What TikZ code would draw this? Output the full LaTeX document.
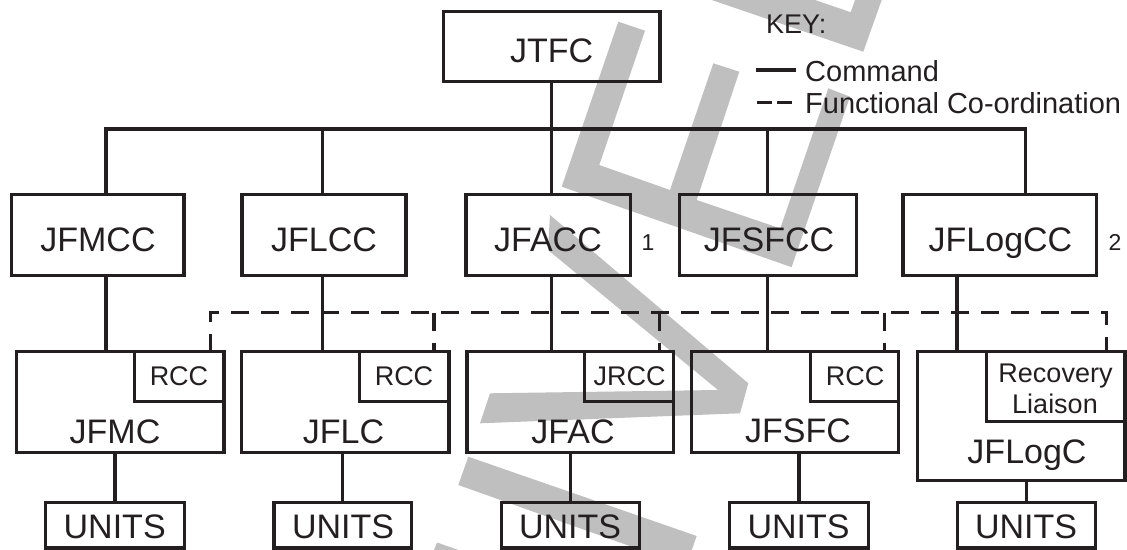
\documentclass[tikz,border=0pt]{standalone}
\usepackage{fontspec}
\setmainfont{Liberation Sans}
\definecolor{ink}{RGB}{35,31,32}
\definecolor{wm}{RGB}{191,191,191}
\begin{document}
\begin{tikzpicture}[x=1pt,y=-1pt,
  box/.style={draw=ink, line width=3.2pt, inner sep=0pt, outer sep=0pt, rectangle},
  ibox/.style={draw=ink, line width=2.8pt, inner sep=0pt, outer sep=0pt, rectangle},
  cmd/.style={draw=ink, line width=3.2pt},
  coord/.style={draw=ink, line width=3.2pt, dash pattern=on 18pt off 12pt},
  txt/.style={text=ink, inner sep=0pt, anchor=base},
  big/.style={txt, font=\fontsize{34}{40}\selectfont},
  mid/.style={txt, font=\fontsize{27}{31}\selectfont},
  keytxt/.style={txt, anchor=base west, font=\fontsize{29}{34}\selectfont},
  note/.style={txt, font=\fontsize{23}{27}\selectfont}
]
\useasboundingbox (0,0) rectangle (1127,549);

% watermark
\begin{scope}
\clip (0,0) rectangle (1127,549);
\fill[wm] (618.3,21.7) -- (645,30.7) -- (599.3,165) -- (670,190) -- (713.3,63.3) -- (739.3,71.7) -- (696.7,200) -- (780.3,228.4) -- (828.3,88.3) -- (850,96.7) -- (791.6,267.2) -- (561.7,186.7) -- cycle;
\fill[wm] (705.8,-2) -- (863.3,51.7) -- (882.4,-2) -- (855.7,-2) -- (850.7,12.2) -- (809,-2) -- cycle;
\fill[wm] (550,215) -- (748.3,383.3) -- (740,413.3) -- (480,423.3) -- (490,393.3) -- (718,390) -- (548,250) -- cycle;
\fill[wm] (468.3,456.7) -- (696.7,536) -- (686,566) -- (458.3,485) -- cycle;
\fill[wm] (437,542.5) -- (470,554) -- (430,560) -- cycle;
\end{scope}

% top box
\node[box, minimum width=216.7pt, minimum height=70pt] (jtfc) at (551.7,46.7) {};
\node[big] (tjtfc) at (551.7,62.7) {JTFC};

% component commands
\node[box, minimum width=172.2pt, minimum height=81.3pt] (jfmcc) at (97.9,235) {};
\node[box, minimum width=164pt, minimum height=81.3pt] (jflcc) at (324,235) {};
\node[box, minimum width=164.3pt, minimum height=81.3pt] (jfacc) at (548.2,235) {};
\node[box, minimum width=177.4pt, minimum height=81.3pt] (jfsfcc) at (768,235) {};
\node[box, minimum width=193.5pt, minimum height=81.3pt] (jflogcc) at (999.8,235) {};
\node[big] (tjfmcc) at (98,251.7) {JFMCC};
\node[big] (tjflcc) at (324,251.7) {JFLCC};
\node[big] (tjfacc) at (548,251.7) {JFACC};
\node[big] (tjfsfcc) at (769,251.7) {JFSFCC};
\node[big] (tjflogcc) at (1000.5,251.7) {JFLogCC};
\node[note] (n1) at (648,250) {1};
\node[note] (n2) at (1115,250) {2};

% component HQs
\node[box, minimum width=207.6pt, minimum height=100.5pt] (jfmc) at (120.2,402) {};
\node[box, minimum width=207.2pt, minimum height=100.5pt] (jflc) at (345.4,402) {};
\node[box, minimum width=206.7pt, minimum height=100.5pt] (jfac) at (570.3,402) {};
\node[box, minimum width=207.5pt, minimum height=100.5pt] (jfsfc) at (795,402) {};
\node[box, minimum width=207.4pt, minimum height=129pt] (jflogc) at (1021.3,416.2) {};
\node[ibox, minimum width=89.4pt, minimum height=49.6pt] (rcc1) at (179.3,376.5) {};
\node[ibox, minimum width=89.4pt, minimum height=49.6pt] (rcc2) at (404.3,376.5) {};
\node[ibox, minimum width=89.2pt, minimum height=49.6pt] (jrcc) at (629.1,376.5) {};
\node[ibox, minimum width=88.6pt, minimum height=49.6pt] (rcc4) at (854.5,376.5) {};
\node[ibox, minimum width=138.6pt, minimum height=69.6pt] (recl) at (1055.7,386.5) {};
\node[big] (tjfmc) at (115,443) {JFMC};
\node[big] (tjflc) at (343.5,443) {JFLC};
\node[big] (tjfac) at (573,443) {JFAC};
\node[big] (tjfsfc) at (798,442.5) {JFSFC};
\node[big] (tjflogc) at (1027,463) {JFLogC};
\node[mid] (trcc1) at (179,385) {RCC};
\node[mid] (trcc2) at (404,385) {RCC};
\node[mid] (tjrcc) at (629.7,385) {JRCC};
\node[mid] (trcc4) at (855,385) {RCC};
\node[mid] (trec1) at (1055.5,382) {Recovery};
\node[mid] (trec2) at (1055,413) {Liaison};

% units
\node[box, minimum width=139.2pt, minimum height=45.7pt] (u1) at (115,525.2) {};
\node[box, minimum width=137.4pt, minimum height=45.7pt] (u2) at (342.7,525.2) {};
\node[box, minimum width=138.4pt, minimum height=45.7pt] (u3) at (570.5,525.2) {};
\node[box, minimum width=138.5pt, minimum height=45.7pt] (u4) at (799,525.2) {};
\node[box, minimum width=138.2pt, minimum height=45.7pt] (u5) at (1026.2,525.2) {};
\node[big] (tu1) at (114.7,538.5) {UNITS};
\node[big] (tu2) at (343,538.5) {UNITS};
\node[big] (tu3) at (570,538.5) {UNITS};
\node[big] (tu4) at (798.5,538.5) {UNITS};
\node[big] (tu5) at (1026,538.5) {UNITS};

% command bus
\coordinate (d1) at (106,129);
\coordinate (d2) at (322.5,129);
\coordinate (d3) at (551.7,129);
\coordinate (d4) at (767.7,129);
\coordinate (d5) at (1025.5,129);
\coordinate (e5) at (957,129);
\draw[cmd] (d1 |- jfmcc.north) -- (d1) -- (d5) -- (d5 |- jflogcc.north);
\draw[cmd] (jtfc.south) -- (jtfc.south |- jfacc.north);
\draw[cmd] (d2) -- (d2 |- jflcc.north);
\draw[cmd] (d4) -- (d4 |- jfsfcc.north);
\draw[cmd] (d1 |- jfmcc.south) -- (d1 |- jfmc.north);
\draw[cmd] (d2 |- jflcc.south) -- (d2 |- jflc.north);
\draw[cmd] (d3 |- jfacc.south) -- (d3 |- jfac.north);
\draw[cmd] (d4 |- jfsfcc.south) -- (d4 |- jfsfc.north);
\draw[cmd] (e5 |- jflogcc.south) -- (e5 |- jflogc.north);
\draw[cmd] (u1.north |- jfmc.south) -- (u1.north);
\draw[cmd] (u2.north |- jflc.south) -- (u2.north);
\draw[cmd] (u3.north |- jfac.south) -- (u3.north);
\draw[cmd] (u4.north |- jfsfc.south) -- (u4.north);
\draw[cmd] (u5.north |- jflogc.south) -- (u5.north);

% functional co-ordination
\coordinate (c1) at (210.4,312.7);
\coordinate (c2) at (434,312.7);
\coordinate (c3) at (659.3,312.7);
\coordinate (c4) at (884.4,312.7);
\coordinate (c5) at (1106.8,312.7);
\draw[coord] (c1 |- rcc1.north) -- (c1) -- (c5) -- (c5 |- recl.north);
\draw[coord] (c2) -- (c2 |- rcc2.north);
\draw[coord] (c3) -- (c3 |- jrcc.north);
\draw[coord] (c4) -- (c4 |- rcc4.north);

% key
\node[txt, anchor=base west, font=\fontsize{27}{31}\selectfont] (key) at (766,33.3) {KEY:};
\coordinate (ka) at (756,70);
\coordinate (kb) at (796,70);
\coordinate (kc) at (757,102.7);
\coordinate (kd) at (793,102.7);
\draw[cmd] (ka) -- (kb);
\draw[draw=ink, line width=3.2pt, dash pattern=on 15pt off 5pt] (kc) -- (kd);
\node[keytxt] (kcmd) at (805,81.7) {Command};
\node[keytxt] (kfc) at (805,113.3) {Functional Co-ordination};
\end{tikzpicture}
\end{document}
